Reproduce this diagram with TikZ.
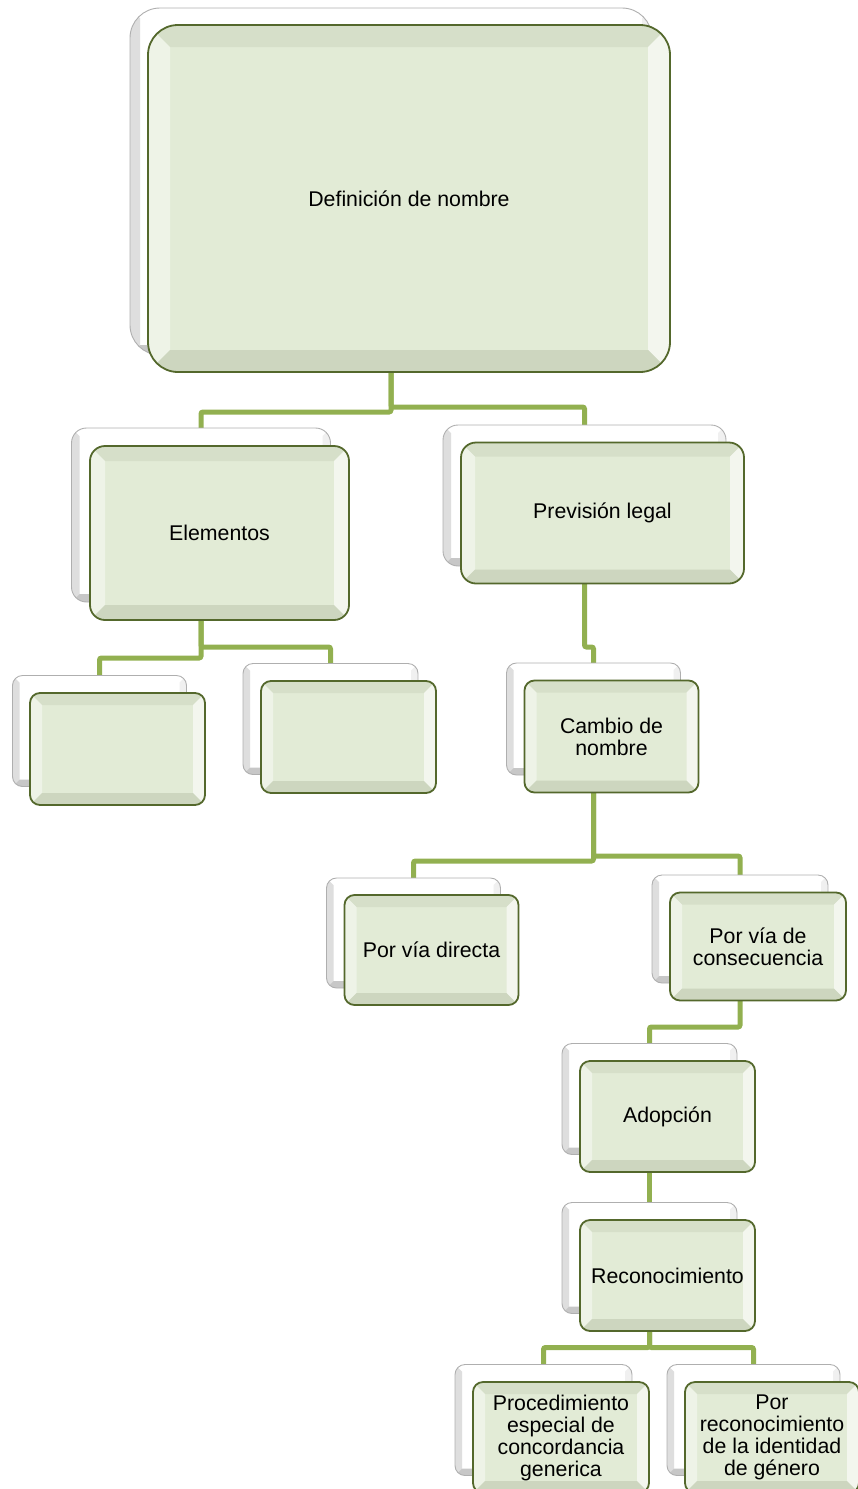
\documentclass[tikz,border=0pt]{standalone}
\usepackage{fontspec}
\setmainfont{Liberation Sans}
\usetikzlibrary{backgrounds}
\definecolor{connc}{RGB}{146,176,80}
\definecolor{frontface}{RGB}{226,235,214}
\definecolor{frontedge}{RGB}{84,104,44}
\definecolor{bvtopc}{RGB}{214,223,201}
\definecolor{bvleftc}{RGB}{238,243,231}
\definecolor{bvrightc}{RGB}{243,246,238}
\definecolor{bvbottomc}{RGB}{205,214,191}
\definecolor{backedge}{RGB}{175,175,175}
\newcommand\cardbevel[5]{%
  \coordinate (pNE) at (path picture bounding box.north east);
  \coordinate (pSW) at (path picture bounding box.south west);
  \coordinate (pNW) at (path picture bounding box.north west);
  \coordinate (pSE) at (path picture bounding box.south east);
  \coordinate (iNE) at ([xshift=-#1pt,yshift=-#1pt]pNE);
  \coordinate (iNW) at ([xshift=#1pt,yshift=-#1pt]pNW);
  \coordinate (iSW) at ([xshift=#1pt,yshift=#1pt]pSW);
  \coordinate (iSE) at ([xshift=-#1pt,yshift=#1pt]pSE);
  \fill[sharp corners,#2] (pNW) -- (pNE) -- (iNE) -- (iNW) -- cycle;
  \fill[sharp corners,#3] (pNW) -- (iNW) -- (iSW) -- (pSW) -- cycle;
  \fill[sharp corners,#4] (pNE) -- (pSE) -- (iSE) -- (iNE) -- cycle;
  \fill[sharp corners,#5] (pSW) -- (iSW) -- (iSE) -- (pSE) -- cycle;
}
\tikzset{
  cardtext/.style={font=\fontsize{21.3}{22}\selectfont, align=center, text=black},
  frontcard/.style 2 args={rectangle, rounded corners=#1, inner sep=0pt, outer sep=0pt,
    fill=frontface, draw=frontedge, line width=1.8pt, cardtext,
    path picture={\cardbevel{#2}{bvtopc}{bvleftc}{bvrightc}{bvbottomc}}},
  backcard/.style 2 args={rectangle, rounded corners=#1, inner sep=0pt, outer sep=0pt,
    fill=white, draw=backedge, line width=0.9pt,
    path picture={\cardbevel{#2}{white}{black!13}{black!6}{black!22}}},
  connector/.style={draw=connc, line width=5pt, rounded corners=2pt},
}
\begin{document}
\begin{tikzpicture}[x=1pt,y=-1pt]
\useasboundingbox (0,0) rectangle (857,1489);

% top
\node[backcard={30pt}{10}, minimum width=522pt, minimum height=347pt] (b1) at (391,181.5) {};
\node[frontcard={30pt}{22}, minimum width=522pt, minimum height=347pt] (f1) at (409,198.5) {Definición de nombre};

% Elementos
\node[backcard={15pt}{8}, minimum width=259pt, minimum height=174pt] (b2) at (201,515) {};
\node[frontcard={15pt}{15}, minimum width=259pt, minimum height=174pt] (f2) at (219.5,533) {Elementos};

% Prevision legal
\node[backcard={15pt}{8}, minimum width=283pt, minimum height=141pt] (b3) at (584.5,495.5) {};
\node[frontcard={15pt}{14}, minimum width=283pt, minimum height=141pt] (f3) at (602.5,513) {Previsión legal};

% empty boxes
\node[backcard={10pt}{7}, minimum width=174pt, minimum height=111pt] (b4) at (99.5,731) {};
\node[frontcard={10pt}{12}, minimum width=175pt, minimum height=112pt] (f4) at (117.5,749) {};
\node[backcard={10pt}{7}, minimum width=175pt, minimum height=111pt] (b5) at (330.5,719) {};
\node[frontcard={10pt}{12}, minimum width=175pt, minimum height=112pt] (f5) at (348.5,737) {};

% Cambio de nombre
\node[backcard={10pt}{7}, minimum width=174pt, minimum height=112pt] (b6) at (593.5,719) {};
\node[frontcard={10pt}{12}, minimum width=174pt, minimum height=112pt] (f6) at (611.5,736.5) {Cambio de\\nombre};

% Por via directa
\node[backcard={10pt}{7}, minimum width=174pt, minimum height=110pt] (b7) at (413.5,933) {};
\node[frontcard={10pt}{12}, minimum width=174pt, minimum height=110pt] (f7) at (431.5,950) {Por vía directa};

% Por via de consecuencia
\node[backcard={10pt}{7}, minimum width=176pt, minimum height=108pt] (b8) at (740,929) {};
\node[frontcard={10pt}{12}, minimum width=176pt, minimum height=108pt] (f8) at (758,946.5) {Por vía de\\consecuencia};

% Adopcion
\node[backcard={10pt}{7}, minimum width=175pt, minimum height=111pt] (b9) at (649.5,1099) {};
\node[frontcard={10pt}{12}, minimum width=175pt, minimum height=111pt] (f9) at (667.5,1116.5) {Adopción};

% Reconocimiento
\node[backcard={10pt}{7}, minimum width=175pt, minimum height=111pt] (b10) at (649.5,1258) {};
\node[frontcard={10pt}{12}, minimum width=175pt, minimum height=111pt] (f10) at (667.5,1275.5) {Reconocimiento};

% bottom row
\node[backcard={10pt}{7}, minimum width=177pt, minimum height=111pt] (b11) at (543.5,1420) {};
\node[frontcard={10pt}{12}, minimum width=176pt, minimum height=111pt] (f11) at (561,1437.5) {Procedimiento\\especial de\\concordancia\\generica};
\node[backcard={10pt}{7}, minimum width=173pt, minimum height=111pt] (b12) at (753.5,1420) {};
\node[frontcard={10pt}{12}, minimum width=174pt, minimum height=111pt] (f12) at (772,1437.5) {Por\\reconocimiento\\de la identidad\\de género};

\begin{scope}[on background layer]
  \draw[connector] (b1.south) -- ++(0,57) -| (b2.north);
  \draw[connector] (b1.south) -- ++(0,52) -| (b3.north);
  \draw[connector] (b2.south) -- ++(0,56) -| (b4.north);
  \draw[connector] (b2.south) -- ++(0,45) -| (b5.north);
  \draw[connector] (b3.south) -- ++(0,81) -| (b6.north);
  \draw[connector] (b6.south) -- ++(0,86) -| (b7.north);
  \draw[connector] (b6.south) -- ++(0,81) -| (b8.north);
  \draw[connector] (b8.south) -- ++(0,44) -| (b9.north);
  \draw[connector] (b9.south) -- (b10.north);
  \draw[connector] (b10.south) -- ++(0,34) -| (b11.north);
  \draw[connector] (b10.south) -- ++(0,34) -| (b12.north);
\end{scope}
\end{tikzpicture}
\end{document}
